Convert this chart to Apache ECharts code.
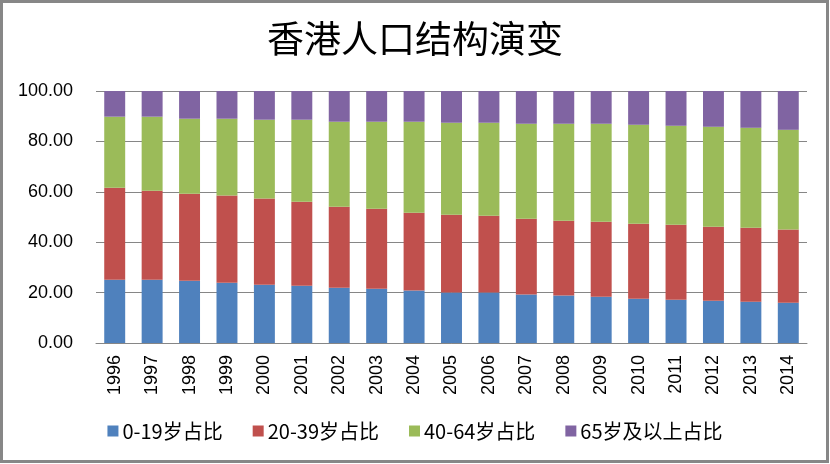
<!DOCTYPE html>
<html>
<head>
<meta charset="utf-8">
<script src="https://cdn.jsdelivr.net/npm/echarts@6/dist/echarts.min.js"></script>
<style>
html,body{margin:0;padding:0;background:#fff;}
#c{width:830px;height:464px;}
</style>
</head>
<body>
<div id="c"></div>
<script>
var years = ['1996','1997','1998','1999','2000','2001','2002','2003','2004','2005','2006','2007','2008','2009','2010','2011','2012','2013','2014'];
var age0_19 = [25.1,25.1,24.7,23.9,23.1,22.7,21.9,21.5,20.8,20.0,20.0,19.2,18.8,18.4,17.6,17.2,16.8,16.4,16.0];
var age20_39 = [36.5,35.3,34.5,34.6,34.2,33.4,32.2,31.8,30.9,30.9,30.5,30.1,29.7,29.7,29.7,29.7,29.3,29.3,29.0];
var age40_64 = [28.2,29.4,29.8,30.5,31.3,32.5,33.7,34.5,36.1,36.5,36.9,37.7,38.5,38.9,39.3,39.3,39.7,39.7,39.6];
var age65 = [10.2,10.2,11.0,11.0,11.4,11.4,12.2,12.2,12.2,12.6,12.6,13.0,13.0,13.0,13.4,13.8,14.2,14.6,15.4];
var seriesNames = ['0-19岁占比','20-39岁占比','40-64岁占比','65岁及以上占比'];
var colors = ['#4F81BD','#C0504D','#9BBB59','#8064A2'];
var yTicks = {min:0, max:100, interval:20};

var chart = echarts.init(document.getElementById('c'), null, {renderer:'canvas'});
var dataSets = [age0_19, age20_39, age40_64, age65];
var series = dataSets.map(function(d, i){
  return {
    name: seriesNames[i],
    type: 'bar',
    stack: 'total',
    data: d,
    barWidth: '56%',
    itemStyle: {color: colors[i]},
    emphasis: {disabled: true}
  };
});
chart.setOption({
  animation: false,
  backgroundColor: '#fff',
  graphic: [{
    type: 'rect',
    shape: {x: 1.5, y: 1.5, width: 826, height: 460},
    style: {fill: 'none', stroke: '#878787', lineWidth: 3},
    silent: true
  }],
  title: {
    text: '香港人口结构演变',
    left: 'center',
    top: 15,
    textStyle: {fontFamily: 'Noto Sans CJK SC', fontSize: 37, fontWeight: 'normal', color: '#000'}
  },
  legend: {
    bottom: 18,
    left: 'center',
    itemWidth: 11,
    itemHeight: 11,
    itemGap: 30,
    icon: 'rect',
    data: seriesNames,
    textStyle: {fontFamily: 'Noto Sans CJK SC', fontSize: 20, color: '#000', padding: [0,0,0,-1]}
  },
  grid: {left: 96, right: 23, top: 91, bottom: 121, containLabel: false},
  xAxis: {
    type: 'category',
    data: years,
    axisLine: {show: true, lineStyle: {color: '#868686', width: 1}},
    axisTick: {show: false},
    axisLabel: {rotate: 90, margin: 12, fontFamily: 'Liberation Sans', fontSize: 18, color: '#000', interval: 0}
  },
  yAxis: {
    type: 'value',
    min: yTicks.min,
    max: yTicks.max,
    interval: yTicks.interval,
    axisLine: {show: false},
    axisTick: {show: false},
    splitLine: {lineStyle: {color: '#868686', width: 1}},
    axisLabel: {
      margin: 23,
      fontFamily: 'Liberation Sans',
      fontSize: 18,
      color: '#000',
      formatter: function(v){ return v.toFixed(2); }
    }
  },
  series: series
});
</script>
</body>
</html>
